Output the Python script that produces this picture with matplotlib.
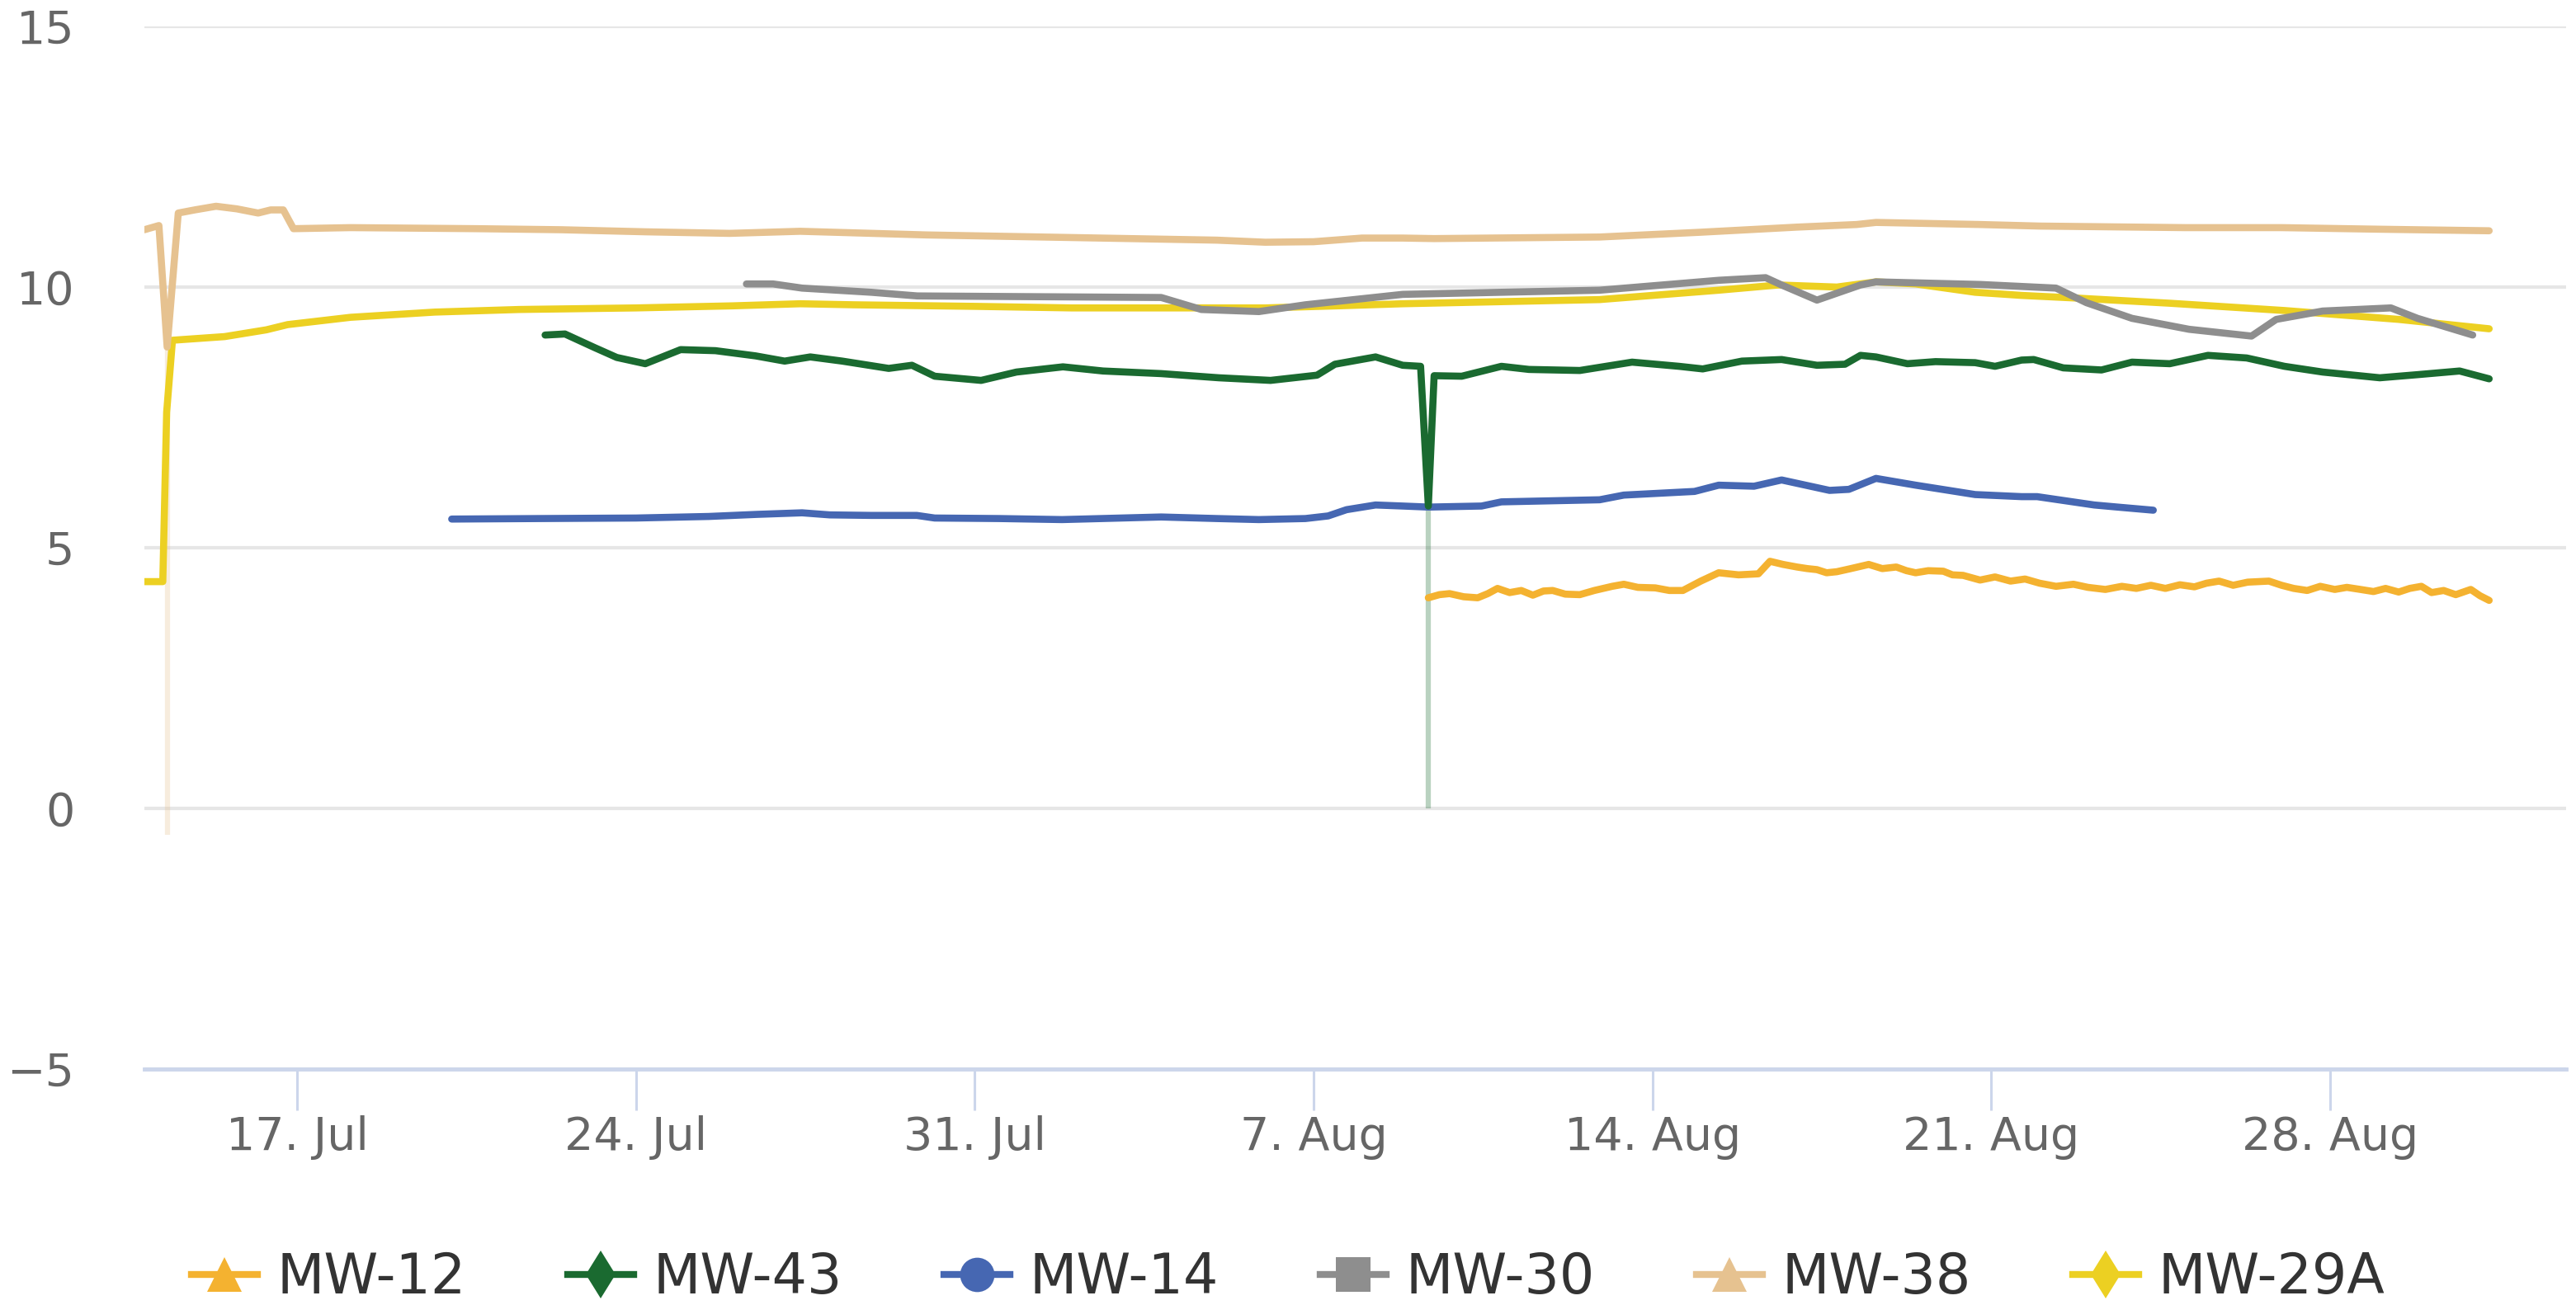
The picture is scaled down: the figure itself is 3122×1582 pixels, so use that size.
import numpy as np
import pandas as pd
import matplotlib
matplotlib.use("Agg")
import matplotlib.pyplot as plt
import matplotlib.dates as mdates
from matplotlib.lines import Line2D
import warnings
warnings.filterwarnings("ignore")

plt.rcParams['font.family'] = ['DejaVu Sans']

BASE = pd.Timestamp("2023-06-30")   # day t = day-of-July (32 = 1 Aug)

# ---------------- data (t = day of July, value) ----------------
mw12_t = [40.37, 40.6, 40.81, 41.1, 41.39, 41.6, 41.80, 42.05, 42.29, 42.53, 42.75, 42.94, 43.2, 43.50,
          43.8, 44.17, 44.41, 44.7, 45.06, 45.35, 45.63, 46.0, 46.37, 46.78, 47.19, 47.43, 47.7, 47.99,
          48.2, 48.40, 48.6, 48.81, 49.1, 49.47, 49.75, 50.04, 50.25, 50.44, 50.7, 51.01, 51.2, 51.42,
          51.77, 52.08, 52.4, 52.7, 53.0, 53.34, 53.7, 54.0, 54.36, 54.7, 55.0, 55.30, 55.6, 55.9,
          56.2, 56.45, 56.71, 57.0, 57.3, 57.74, 58.0, 58.25, 58.53, 58.8, 59.1, 59.35, 59.63, 59.9,
          60.15, 60.42, 60.65, 60.89, 61.1, 61.35, 61.60, 61.91, 62.1, 62.29]
mw12_v = [4.04, 4.10, 4.12, 4.06, 4.04, 4.12, 4.22, 4.14, 4.18, 4.09, 4.17, 4.18, 4.11, 4.10,
          4.18, 4.26, 4.30, 4.24, 4.23, 4.18, 4.18, 4.36, 4.52, 4.48, 4.50, 4.74, 4.68, 4.63,
          4.60, 4.58, 4.52, 4.54, 4.60, 4.68, 4.60, 4.63, 4.56, 4.52, 4.56, 4.55, 4.48, 4.47,
          4.38, 4.44, 4.36, 4.40, 4.32, 4.26, 4.30, 4.24, 4.20, 4.26, 4.22, 4.28, 4.22, 4.29,
          4.25, 4.32, 4.36, 4.28, 4.34, 4.36, 4.28, 4.22, 4.18, 4.26, 4.20, 4.24, 4.20, 4.16,
          4.22, 4.15, 4.22, 4.26, 4.14, 4.18, 4.10, 4.20, 4.08, 3.99]

mw43_t = [22.12, 22.53, 23.14, 23.6, 24.19, 24.92, 25.64, 26.47, 27.07, 27.60, 28.26, 29.22, 29.70,
          30.17, 31.13, 31.86, 32.82, 33.65, 34.85, 36.04, 37.11, 38.07, 38.44, 39.28, 39.84, 40.21,
          40.37, 40.49, 41.06, 41.88, 42.45, 43.50, 44.58, 45.55, 46.04, 46.85, 47.67, 48.40, 48.98,
          49.30, 49.62, 50.27, 50.85, 51.67, 52.08, 52.63, 52.88, 53.49, 54.28, 54.91, 55.69, 56.48,
          57.28, 58.06, 58.85, 60.03, 60.81, 61.68, 62.29]
mw43_v = [9.08, 9.10, 8.84, 8.65, 8.53, 8.80, 8.78, 8.68, 8.58, 8.66, 8.58, 8.44, 8.50,
          8.29, 8.21, 8.37, 8.47, 8.39, 8.34, 8.26, 8.21, 8.31, 8.52, 8.66, 8.50, 8.48,
          5.80, 8.30, 8.29, 8.48, 8.42, 8.40, 8.56, 8.48, 8.43, 8.58, 8.61, 8.50, 8.52,
          8.69, 8.66, 8.53, 8.57, 8.55, 8.48, 8.60, 8.61, 8.45, 8.41, 8.56, 8.53, 8.69,
          8.64, 8.48, 8.37, 8.26, 8.32, 8.39, 8.24]

mw14_t = [20.19, 22.0, 24.0, 25.5, 26.5, 27.43, 28.0, 28.86, 29.8, 30.17, 31.5, 32.8, 34.85, 36.0,
          36.87, 37.83, 38.3, 38.68, 39.28, 39.84, 40.37, 41.47, 41.88, 43.91, 44.41, 45.87, 46.37,
          47.10, 47.67, 48.66, 49.06, 49.62, 50.44, 51.67, 52.63, 52.95, 54.13, 54.61, 55.35]
mw14_v = [5.55, 5.56, 5.57, 5.60, 5.64, 5.67, 5.63, 5.62, 5.62, 5.57, 5.56, 5.54, 5.59, 5.56,
          5.54, 5.56, 5.61, 5.73, 5.82, 5.80, 5.78, 5.80, 5.88, 5.92, 6.01, 6.08, 6.20,
          6.18, 6.30, 6.10, 6.12, 6.33, 6.20, 6.02, 5.98, 5.98, 5.82, 5.78, 5.72]

mw30_t = [26.28, 26.83, 27.43, 28.86, 29.81, 34.85, 35.68, 36.87, 37.83, 39.84, 43.91, 46.37, 47.34,
          47.67, 48.40, 49.30, 49.62, 51.77, 53.34, 53.97, 54.91, 56.09, 57.38, 57.89, 58.85, 60.26,
          60.81, 61.95]
mw30_v = [10.06, 10.06, 9.98, 9.90, 9.83, 9.80, 9.57, 9.53, 9.66, 9.86, 9.94, 10.13, 10.18,
          10.04, 9.75, 10.04, 10.10, 10.05, 9.98, 9.70, 9.40, 9.19, 9.06, 9.38, 9.54, 9.60,
          9.40, 9.08]

mw38_t = [13.84, 14.14, 14.31, 14.54, 14.88, 15.32, 15.75, 16.19, 16.45, 16.71, 16.92, 18.10, 20.71,
          22.45, 24.19, 25.93, 27.39, 30.0, 33.0, 36.0, 37.0, 38.0, 39.0, 39.84, 40.49, 43.91, 45.96,
          47.99, 49.22, 49.62, 51.77, 53.0, 56.0, 58.0, 60.0, 62.29]
mw38_v = [11.10, 11.18, 8.85, 11.42, 11.48, 11.55, 11.50, 11.42, 11.48, 11.48, 11.12, 11.14, 11.12,
          11.10, 11.06, 11.03, 11.07, 11.00, 10.95, 10.90, 10.86, 10.87, 10.94, 10.94, 10.93, 10.96, 11.05,
          11.15, 11.20, 11.24, 11.20, 11.17, 11.14, 11.14, 11.11, 11.08]

mw29a_t = [13.84, 14.22, 14.30, 14.42, 15.5, 16.36, 16.8, 18.10, 19.84, 21.58, 24.0, 26.0, 27.39, 28.5,
           31.0, 33.0, 35.0, 37.0, 38.5, 39.84, 43.91, 46.37, 47.60, 48.81, 49.62, 50.44, 51.67, 52.63,
           53.74, 55.69, 58.06, 60.42, 62.29]
mw29a_v = [4.35, 4.35, 7.60, 8.98, 9.05, 9.18, 9.28, 9.42, 9.52, 9.57, 9.60, 9.64, 9.68, 9.66,
           9.63, 9.60, 9.60, 9.60, 9.64, 9.68, 9.76, 9.94, 10.04, 10.00, 10.10, 10.06, 9.90, 9.84,
           9.79, 9.69, 9.55, 9.38, 9.20]

# faint near-vertical spikes (time, lowest value)
spike_t = [14.31, 40.37]
spike_v = [-0.5, 0.0]
spike_series = ["MW-38", "MW-43"]

series_names = ["MW-12", "MW-43", "MW-14", "MW-30", "MW-38", "MW-29A"]
series_t = [mw12_t, mw43_t, mw14_t, mw30_t, mw38_t, mw29a_t]
series_v = [mw12_v, mw43_v, mw14_v, mw30_v, mw38_v, mw29a_v]
colors = {"MW-12": "#f4b230", "MW-43": "#1a6a30", "MW-14": "#4667b2",
          "MW-30": "#8e8e8e", "MW-38": "#e6c290", "MW-29A": "#ecd022"}
markers = {"MW-12": "^", "MW-43": "d", "MW-14": "o", "MW-30": "s", "MW-38": "^", "MW-29A": "d"}

x_min_t, x_max_t = 13.84, 63.88
y_ticks = [-5, 0, 5, 10, 15]


def to_dates(t):
    return BASE + pd.to_timedelta(np.asarray(t, dtype=float), unit="D")


fig = plt.figure(figsize=(31.22, 15.82), dpi=100)
ax = fig.add_axes([175 / 3122, 1 - 1296 / 1582, (3110 - 175) / 3122, (1296 - 32) / 1582])

# spikes (drawn underneath, faint)
for st, sv, sname in zip(spike_t, spike_v, spike_series):
    i = series_names.index(sname)
    tt = np.asarray(series_t[i]); vv = np.asarray(series_v[i])
    k = int(np.argmin(np.abs(tt - st)))
    d = to_dates([st, st])
    ax.plot(d, [vv[k], sv], color=colors[sname], lw=4.5, alpha=0.3, zorder=2,
            solid_capstyle="butt")

order = ["MW-29A", "MW-38", "MW-30", "MW-14", "MW-43", "MW-12"]
for name in series_names:
    i = series_names.index(name)
    ax.plot(to_dates(series_t[i]), series_v[i], color=colors[name], lw=6.2,
            solid_joinstyle="round", solid_capstyle="round", zorder=3 + order.index(name) * 0.1)

ax.set_ylim(-5, 15)
ax.set_xlim(to_dates([x_min_t])[0], to_dates([x_max_t])[0])
ax.set_yticks(y_ticks)
ax.yaxis.grid(True, color="#e6e6e6", lw=3)
ax.xaxis.grid(False)
ax.set_axisbelow(True)
for s in ["top", "right", "left"]:
    ax.spines[s].set_visible(False)
ax.spines["bottom"].set_color("#ccd6eb")
ax.spines["bottom"].set_linewidth(3.5)
ax.spines["bottom"].set_zorder(1)

ax.xaxis.set_major_locator(mdates.WeekdayLocator(byweekday=mdates.MO))
ax.xaxis.set_major_formatter(plt.FuncFormatter(
    lambda x, p: f"{mdates.num2date(x).day}. {mdates.num2date(x).strftime('%b')}"))
ax.tick_params(axis="x", direction="out", length=36, width=2.2, color="#ccd6eb",
               labelsize=40, labelcolor="#666666", pad=4)
ax.tick_params(axis="y", length=0, labelsize=40, labelcolor="#666666", pad=61)
for lab in ax.get_yticklabels():
    lab.set_horizontalalignment("right")

handles = [Line2D([0], [0], color=colors[n], lw=6, marker=markers[n], markersize=30,
                  markeredgewidth=0) for n in series_names]
fig.legend(handles, series_names, loc="center", bbox_to_anchor=(0.5, 1 - 1549 / 1582),
           ncol=6, frameon=False, fontsize=48, handlelength=1.2, handletextpad=0.35,
           columnspacing=1.85, labelcolor="#333333")

fig.savefig("out.png", dpi=100, facecolor="white")
